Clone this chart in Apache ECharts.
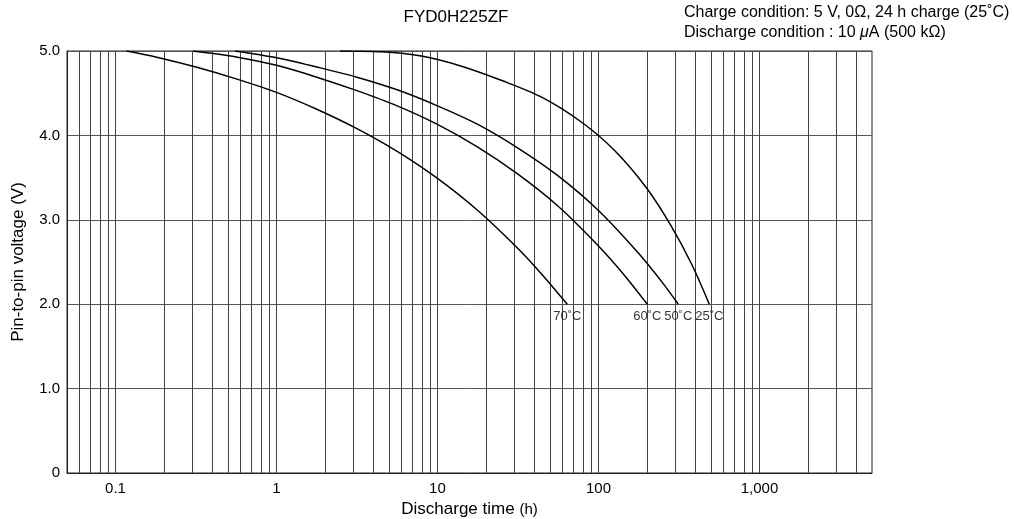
<!DOCTYPE html>
<html>
<head>
<meta charset="utf-8">
<script src="https://cdn.jsdelivr.net/npm/echarts@6/dist/echarts.min.js"></script>
<style>
html,body{margin:0;padding:0;background:#fff;}
#c{width:1014px;height:519px;}
</style>
</head>
<body>
<div id="c"></div>
<script>
// ---- data ----
const t25 = [2.48, 4.47, 7.94, 14.1, 25.1, 44.7, 79.4, 126, 200, 282, 380, 488];
const v25 = [5.0, 4.99, 4.94, 4.82, 4.65, 4.45, 4.15, 3.82, 3.37, 2.93, 2.47, 2.0];

const t50 = [0.553, 1, 1.78, 3.16, 5.62, 10, 17.8, 31.6, 56.2, 100, 178, 251, 313];
const v50 = [5.0, 4.92, 4.81, 4.69, 4.54, 4.35, 4.13, 3.85, 3.52, 3.11, 2.60, 2.25, 2.0];

const t60 = [0.304, 0.562, 1, 1.78, 3.16, 5.62, 10, 17.8, 31.6, 56.2, 100, 141, 201];
const v60 = [5.0, 4.93, 4.83, 4.69, 4.53, 4.35, 4.13, 3.86, 3.54, 3.16, 2.69, 2.37, 2.0];

const t70 = [0.117, 0.178, 0.316, 0.562, 1, 1.78, 3.16, 5.62, 10, 17.8, 31.6, 44.7, 64];
const v70 = [5.0, 4.93, 4.81, 4.67, 4.51, 4.31, 4.08, 3.81, 3.49, 3.11, 2.66, 2.35, 2.0];

const curveNames = ['25˚C', '50˚C', '60˚C', '70˚C'];
const curveTimes = [t25, t50, t60, t70];
const curveVolts = [v25, v50, v60, v70];

const xMin = 0.05, xMax = 5000;
const xTickLabels = [0.1, 1, 10, 100, 1000];
const yTicks = [0, 1, 2, 3, 4, 5];
const gridX = [0.06, 0.07, 0.08, 0.09,
  0.1, 0.2, 0.3, 0.4, 0.5, 0.6, 0.7, 0.8, 0.9,
  1, 2, 3, 4, 5, 6, 7, 8, 9,
  10, 20, 30, 40, 50, 60, 70, 80, 90,
  100, 200, 300, 400, 500, 600, 700, 800, 900,
  1000, 2000, 3000, 4000];

// ---- chart ----
const FONT = '"Liberation Sans", Arial, Helvetica, sans-serif';
const TXT = '#000';
const chart = echarts.init(document.getElementById('c'), null, {renderer: 'canvas'});

const lineSeries = curveNames.map((n, i) => ({
  name: n,
  type: 'line',
  data: curveTimes[i].map((t, k) => [t, curveVolts[i][k]]),
  smooth: 0.3,
  showSymbol: false,
  symbol: 'none',
  lineStyle: {color: '#000', width: 1.5},
  silent: true,
  z: 5
}));

const labelSeries = {
  type: 'scatter',
  data: curveNames.map((n, i) => ({
    name: n,
    value: [curveTimes[i][curveTimes[i].length - 1], curveVolts[i][curveVolts[i].length - 1]]
  })),
  symbolSize: 1,
  itemStyle: {color: 'rgba(255,255,255,0)'},
  label: {
    show: true, position: 'bottom', distance: 5,
    formatter: p => p.name,
    color: '#000', fontSize: 13, fontFamily: FONT
  },
  silent: true,
  z: 6
};

const gridSeries = {
  type: 'line',
  data: [],
  silent: true,
  markLine: {
    silent: true,
    symbol: ['none', 'none'],
    label: {show: false},
    lineStyle: {color: '#444', width: 1, type: 'solid'},
    animation: false,
    data: gridX.map(v => ({xAxis: v}))
  },
  z: 1
};

chart.setOption({
  animation: false,
  backgroundColor: '#fff',
  grid: {left: 67, right: 142, top: 51, bottom: 46, show: true, borderColor: '#222', borderWidth: 1,
         containLabel: false, outerBoundsMode: 'none'},
  graphic: [
    {type: 'text', x: 456, y: 17,
     style: {text: 'FYD0H225ZF', fill: TXT, font: '17px ' + FONT,
             textAlign: 'center', align: 'center', textVerticalAlign: 'middle', verticalAlign: 'middle'}},
    {type: 'text', x: 684, y: 13,
     style: {text: 'Charge condition: 5 V, 0Ω, 24 h charge (25˚C)', fill: TXT, font: '16px ' + FONT,
             textVerticalAlign: 'middle', verticalAlign: 'middle'}},
    {type: 'text', x: 684, y: 33,
     style: {
       text: 'Discharge condition : 10 {i|μ}A (500 kΩ)', fill: TXT, font: '16px ' + FONT,
       textVerticalAlign: 'middle', verticalAlign: 'middle',
       rich: {i: {fontStyle: 'italic', fontSize: 16, fontFamily: FONT, fill: TXT}}
     }}
  ],
  xAxis: {
    type: 'log', logBase: 10, min: xMin, max: xMax,
    name: 'Discharge time {s|(h)}', nameLocation: 'middle', nameGap: 18,
    nameTextStyle: {color: TXT, fontSize: 17, fontFamily: FONT,
      rich: {s: {fontSize: 15, color: TXT, fontFamily: FONT}}},
    axisLine: {show: true, lineStyle: {color: '#222', width: 1}},
    axisTick: {show: false},
    splitLine: {show: false},
    axisLabel: {
      color: TXT, fontSize: 15, fontFamily: FONT, margin: 8,
      formatter: v => {
        const m = xTickLabels.find(t => Math.abs(Math.log10(v) - Math.log10(t)) < 1e-6);
        if (m === undefined) return '';
        return m >= 1000 ? m.toLocaleString('en-US') : String(m);
      }
    }
  },
  yAxis: {
    type: 'value', min: yTicks[0], max: yTicks[yTicks.length - 1], interval: 1,
    name: 'Pin-to-pin voltage (V)', nameLocation: 'middle', nameGap: 40,
    nameTextStyle: {color: TXT, fontSize: 17, fontFamily: FONT},
    axisLine: {show: true, lineStyle: {color: '#222', width: 1}},
    axisTick: {show: false},
    splitLine: {show: true, lineStyle: {color: '#555', width: 1}},
    axisLabel: {
      color: TXT, fontSize: 15, fontFamily: FONT, margin: 7,
      formatter: v => (v === 0 ? '0' : v.toFixed(1))
    }
  },
  series: [gridSeries].concat(lineSeries, [labelSeries])
});
</script>
</body>
</html>
